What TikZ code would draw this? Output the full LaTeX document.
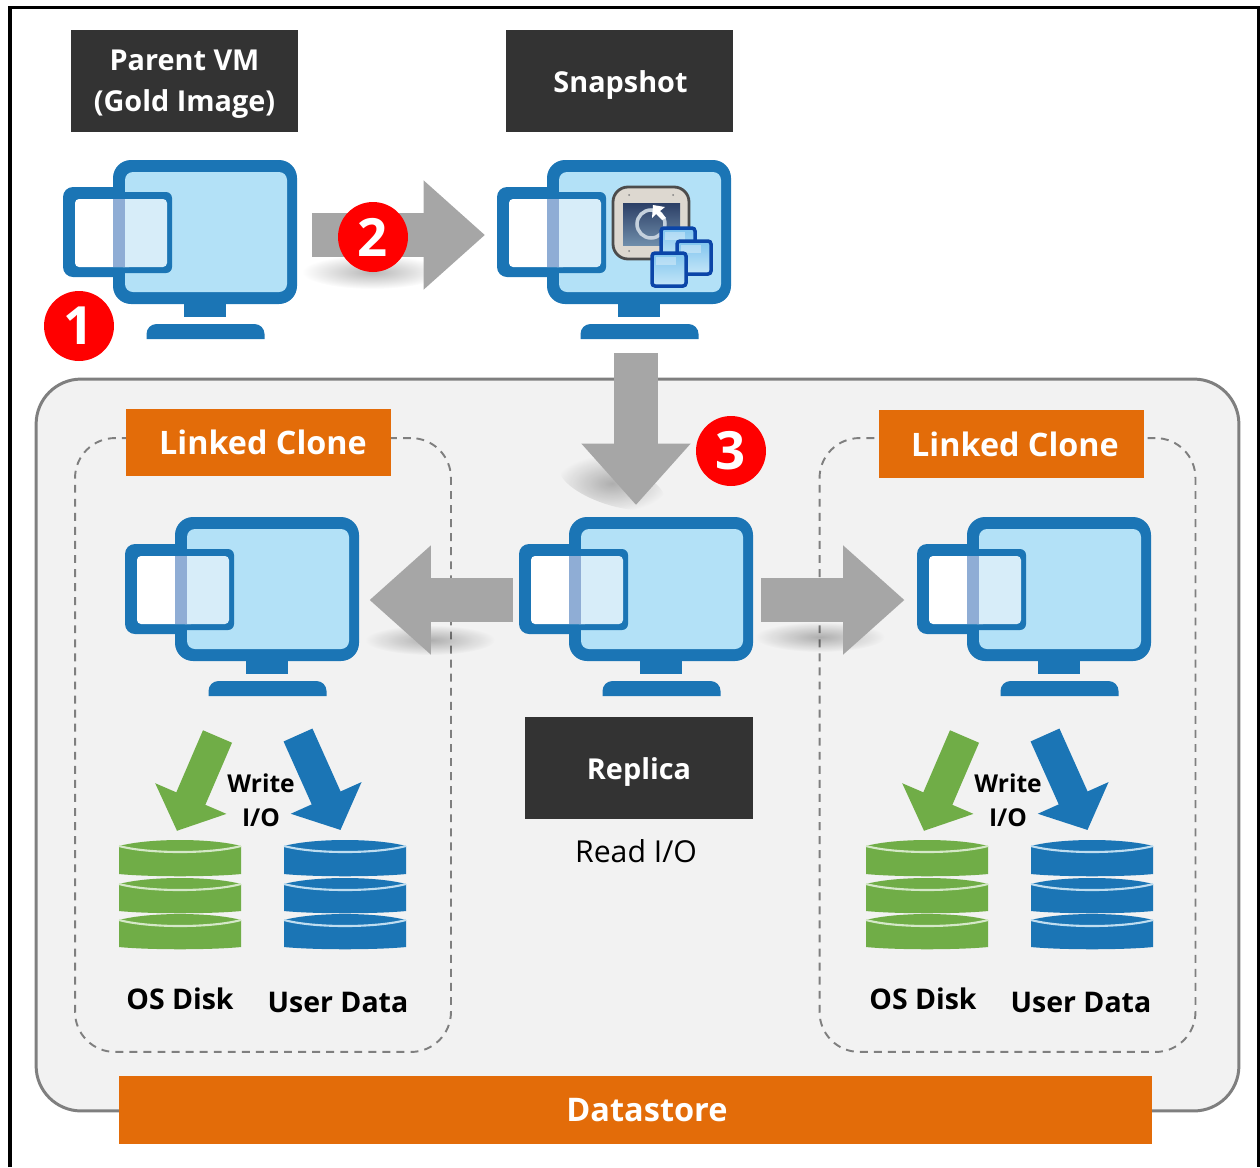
\documentclass[tikz,border=0pt]{standalone}
\usepackage{fontspec}
\setmainfont{Open Sans}
\definecolor{vmblue}{HTML}{1B75B5}
\definecolor{screenblue}{HTML}{B3E1F7}
\definecolor{windowpale}{HTML}{D7EDF9}
\definecolor{bandblue}{HTML}{8FADD5}
\definecolor{diskgreen}{HTML}{70AD47}
\definecolor{diskgreenlt}{HTML}{D5E8C8}
\definecolor{diskbluelt}{HTML}{BFDDF0}
\definecolor{darkbox}{HTML}{333333}
\definecolor{orangebox}{HTML}{E36C09}
\definecolor{panelgray}{HTML}{F2F2F2}
\definecolor{linegray}{HTML}{7F7F7F}
\definecolor{arrowgray}{HTML}{A6A6A6}
\definecolor{snapbody}{HTML}{DDD8D0}
\definecolor{snaptop}{HTML}{2C3F66}
\definecolor{snapbottom}{HTML}{6F8DAA}
\definecolor{cubeline}{HTML}{0B45A8}
\definecolor{cubetop}{HTML}{7FC4EE}
\definecolor{cubebottom}{HTML}{C5E6F8}
\usetikzlibrary{arrows.meta, fadings}
\tikzfading[name=softglow, inner color=transparent!72, outer color=transparent!100]
\newcommand{\lowered}[1]{\raisebox{-2pt}[\height][\depth]{#1}}

\tikzset{
  vmicon/.pic={
    \fill[vmblue, rounded corners=.36cm] (0,0) rectangle (184,144);
    \fill[screenblue, rounded corners=.16cm] (12,12) rectangle (174,132);
    \fill[vmblue] (71,144) rectangle (113,157);
    \fill[vmblue] (33.5,179) [rounded corners=.2cm] -- (33.5,164) -- (151.5,164) [sharp corners] -- (151.5,179) -- cycle;
    % Small window
    \fill[vmblue, rounded corners=.2cm] (-50,27) rectangle (10,117);
    \fill[vmblue, rounded corners=.12cm] (0,32) rectangle (59,113);
    \fill[white, rounded corners=.08cm] (-38,39) rectangle (20,107);
    \fill[windowpale, rounded corners=.08cm] (6,39) rectangle (54,107);
    \fill[bandblue] (0,39) rectangle (12,107);
  },
  snapicon/.pic={
    \fill[snapbody, draw=black!70, line width=1.6pt, rounded corners=.3cm] (0,0) rectangle (76,72);
    \shade[top color=snaptop, bottom color=snapbottom] (10,16) rectangle (67,58);
    \draw[white!60!snapbottom, line width=2pt] (38,37) circle [radius=.28cm];
    \fill[white] (40,18) -- (52,20) -- (47,24) -- (53,31) -- (49,33) -- (43,27) -- (39,31) -- cycle;
    \foreach \sx/\sy in {16/8, 60/8, 16/64, 60/64}
      \fill[black!50] (\sx,\sy) circle [radius=.02cm];
    \foreach \qx/\qy in {48/41, 64/54, 39/66} {
      \shade[top color=cubetop, bottom color=cubebottom, draw=cubeline, line width=2pt, rounded corners=.06cm] (\qx,\qy) rectangle (\qx+34,\qy+33);
      \fill[white, opacity=.35] (\qx+4,\qy+4) rectangle (\qx+24,\qy+12);
    }
  },
  diskstack/.pic={
    \foreach \ct/\cb in {80/110, 44/74, 6/37} {
      \fill[disk fill] (0,\ct) .. controls (30,\ct-8) and (92,\ct-8) .. (122,\ct) -- (122,\cb-3) .. controls (92,\cb) and (30,\cb) .. (0,\cb-3) -- cycle;
      \draw[disk line, line width=1.2pt] (0,\ct) .. controls (30,\ct+8) and (92,\ct+8) .. (122,\ct);
    }
  },
  disk fill/.style={fill=vmblue},
  disk line/.style={draw=diskbluelt},
}

\begin{document}
\begin{tikzpicture}[
  x=0.02cm, y=-0.02cm,
  darklabel/.style={fill=darkbox, text=white, minimum width=4.55cm, minimum height=2.04cm, inner sep=0pt, align=center, font=\fontsize{16.4}{23.5}\selectfont\bfseries},
  orangelabel/.style={fill=orangebox, text=white, minimum width=5.3cm, minimum height=1.35cm, inner sep=0pt, font=\fontsize{18.4}{24}\selectfont\bfseries},
  badge/.style={circle, fill=red, text=white, minimum size=1.4cm, inner sep=0pt, font=\fontsize{30}{30}\selectfont\bfseries},
  iconbox/.style={minimum width=4.7cm, minimum height=3.32cm, inner sep=0pt, outer sep=0pt},
  clonebox/.style={draw=linegray, line width=1.1pt, dash pattern=on 4.5pt off 3.5pt, rounded corners=.8cm, minimum width=7.52cm, minimum height=12.28cm},
  diskbox/.style={minimum width=2.44cm, minimum height=2.2cm, inner sep=0pt, outer sep=0pt},
  disklabel/.style={font=\fontsize{16.2}{22}\selectfont\bfseries},
  grayarrow/.style={draw=arrowgray, line width=25pt, -{Triangle[length=35pt,width=60pt]}},
  writearrow/.style={line width=18pt, -{Triangle[length=20pt,width=43pt]}},
]
\useasboundingbox (0,0) rectangle (1260,1167);

% Frame
\draw[black, line width=2.2pt] (10,1167) -- (10,7.5) -- (1259,7.5) -- (1259,1167);

% Datastore area
\node[draw=linegray, fill=panelgray, line width=1.7pt, rounded corners=.9cm, minimum width=24.06cm, minimum height=14.64cm] (area) at (637.5,745) {};
\node[clonebox] (leftbox) at (263,745) {};
\node[clonebox] (rightbox) at (1007.5,745) {};
\node[fill=orangebox, text=white, minimum width=20.66cm, minimum height=1.36cm, inner sep=0pt, font=\fontsize{18.5}{24}\selectfont\bfseries] (datastore) at (635.5,1110) {\hspace*{.46cm}Datastore};

% Headings
\node[darklabel] (parentlabel) at (184.5,81) {\lowered{Parent VM}\\\lowered{(Gold Image)}};
\node[darklabel] (snaplabel) at (619.5,81) {\lowered{\hspace*{.04cm}Snapshot}};
\node[darklabel] (replicalabel) at (639,768) {\lowered{Replica}};
\node[orangelabel] (leftlabel) at (258.5,442.5) {\hspace*{.18cm}Linked Clone};
\node[orangelabel] (rightlabel) at (1011.5,444) {\hspace*{.14cm}Linked Clone};
\node[font=\fontsize{17.2}{22}\selectfont] (readio) at (636,851) {Read I/O};

% Soft shadows
\fill[black, path fading=softglow] (372,272) ellipse [x radius=1.4cm, y radius=.34cm];
\fill[black, path fading=softglow] (612,484) ellipse [x radius=1.1cm, y radius=.42cm, rotate=-18];
\fill[black, path fading=softglow] (430,640) ellipse [x radius=1.3cm, y radius=.3cm];
\fill[black, path fading=softglow] (820,637) ellipse [x radius=1.3cm, y radius=.3cm];

% Machines
\node[iconbox, minimum height=3cm] (parent) at (180.5,235) {};
\node[iconbox, minimum height=3cm] (snap) at (614.5,235) {};
\node[iconbox] (replica) at (636,600) {};
\node[iconbox] (leftvm) at (242,600) {};
\node[iconbox] (rightvm) at (1034,600) {};
\pic at (113,160) {vmicon};
\pic at (547,160) {vmicon};
\pic at (569,517) {vmicon};
\pic at (175,517) {vmicon};
\pic at (967,517) {vmicon};
\pic at (613,187) {snapicon};

% Gray arrows
\draw[grayarrow, shorten <=.28cm, shorten >=.24cm] (parent.east) -- (snap.west);
\draw[grayarrow, shorten <=.86cm, shorten >=.24cm] (snap.south -| replica.north) -- (replica.north);
\draw[grayarrow, shorten <=.12cm, shorten >=.2cm] (replica.west) -- (leftvm.east);
\draw[grayarrow, shorten <=.16cm, shorten >=.24cm] (replica.east) -- (rightvm.west);

% Steps
\node[badge] (stepone) at (79,326) {1};
\node[badge] (steptwo) at (373,237) {2};
\node[badge] (stepthree) at (731,451) {3};

% Disks
\node[diskbox] (leftos) at (180,895) {};
\node[diskbox] (leftuser) at (345,895) {};
\node[diskbox] (rightos) at (927,895) {};
\node[diskbox] (rightuser) at (1092,895) {};
\pic[disk fill/.style={fill=diskgreen}, disk line/.style={draw=diskgreenlt}] at (119,840) {diskstack};
\pic at (284,840) {diskstack};
\pic[disk fill/.style={fill=diskgreen}, disk line/.style={draw=diskgreenlt}] at (866,840) {diskstack};
\pic at (1031,840) {diskstack};

% Write arrows
\coordinate (leftgreen) at (217.5,736.5);
\coordinate (leftblue) at (298,735);
\coordinate (rightgreen) at (964.5,736.5);
\coordinate (rightblue) at (1045,735);
\draw[writearrow, draw=diskgreen, shorten >=.2cm] (leftgreen) -- ([shift={(-7,0)}]leftos.north);
\draw[writearrow, draw=vmblue, shorten >=.22cm] (leftblue) -- (leftuser.north);
\draw[writearrow, draw=diskgreen, shorten >=.2cm] (rightgreen) -- ([shift={(-7,0)}]rightos.north);
\draw[writearrow, draw=vmblue, shorten >=.22cm] (rightblue) -- (rightuser.north);

% Disk labels
\node[align=center, font=\fontsize{14}{19.5}\selectfont\bfseries] (leftwrite) at (261,800) {Write\\I/O};
\node[align=center, font=\fontsize{14}{19.5}\selectfont\bfseries] (rightwrite) at (1008,800) {Write\\I/O};
\node[disklabel] (leftoslabel) at (180,999) {OS Disk};
\node[disklabel] (leftuserlabel) at (338,1002) {User Data};
\node[disklabel] (rightoslabel) at (923,999) {OS Disk};
\node[disklabel] (rightuserlabel) at (1081,1002) {User Data};

\end{tikzpicture}
\end{document}
